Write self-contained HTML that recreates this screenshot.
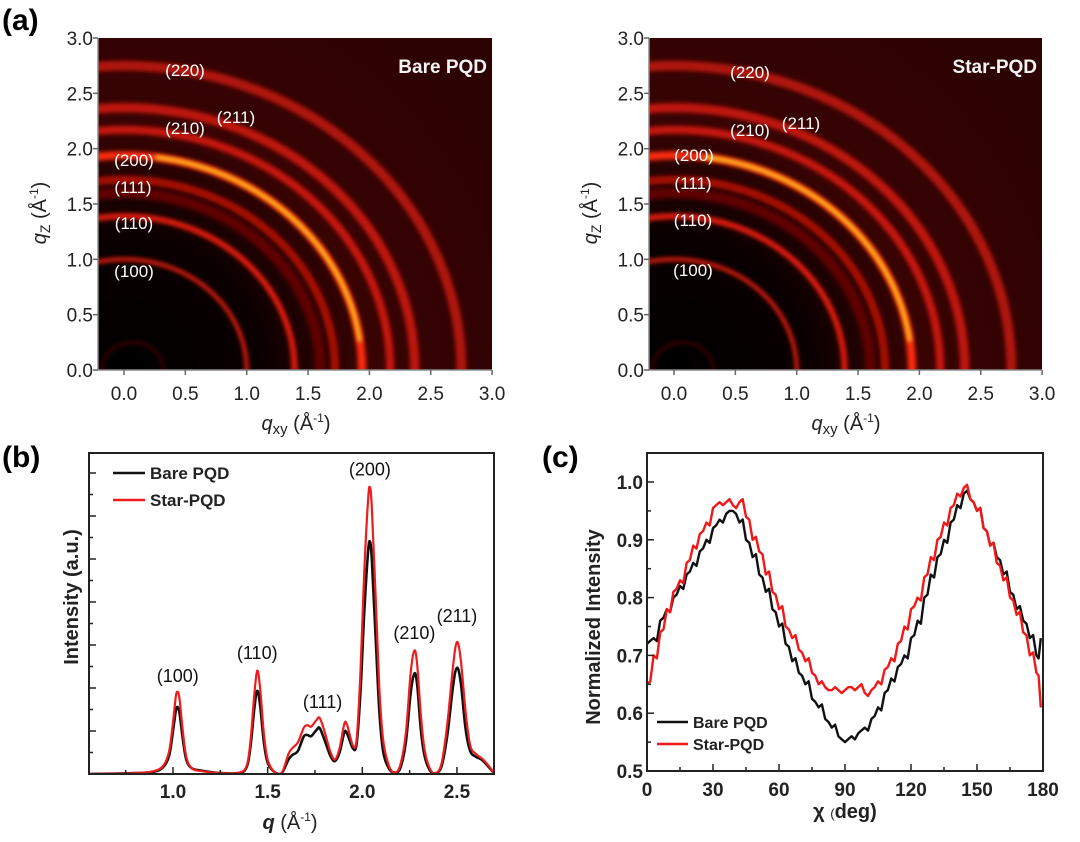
<!DOCTYPE html>
<html><head><meta charset="utf-8">
<style>
html,body{margin:0;padding:0;background:#fff;}
svg{display:block;font-family:"Liberation Sans",Arial,sans-serif;}
</style></head>
<body>
<svg id="fig" width="1080" height="842" viewBox="0 0 1080 842" xmlns="http://www.w3.org/2000/svg">
<defs>
  <filter id="blur2" x="-10%" y="-10%" width="120%" height="120%"><feGaussianBlur stdDeviation="2"/></filter>
  <filter id="blur4" x="-10%" y="-10%" width="120%" height="120%"><feGaussianBlur stdDeviation="3"/></filter>
  <clipPath id="clipA1"><rect x="98" y="38" width="394" height="332"/></clipPath>
  <clipPath id="clipA2"><rect x="649" y="38" width="393" height="332"/></clipPath>
  <clipPath id="clipB"><rect x="89" y="453" width="405" height="321"/></clipPath>
  <clipPath id="clipC"><rect x="647" y="453" width="396" height="318"/></clipPath>
</defs>
<g id="panelA1"></g>
<g id="panelA2"></g>
<g id="panelB"></g>
<g id="panelC"></g>
<text x="2" y="30" font-size="30" font-weight="bold">(a)</text>
<text x="2" y="467" font-size="30" font-weight="bold">(b)</text>
<text x="542" y="467" font-size="30" font-weight="bold">(c)</text>
</svg>
<script>
// ---------- Panel (a) data ----------
const ringQ      = [1.0, 1.39, 1.60, 1.72, 1.94, 2.17, 2.37, 2.75];
const ringWidth  = [0.035, 0.05, 0.09, 0.07, 0.07, 0.07, 0.08, 0.085];
const ringColor  = ["#e01a10","#e81c10","#600202","#a80c04","#ff2c10","#c81608","#c01408","#b01208"];
const aTicks     = [0, 0.5, 1.0, 1.5, 2.0, 2.5, 3.0];
const aTickLabels= ["0.0","0.5","1.0","1.5","2.0","2.5","3.0"];
const ringLabels = ["(100)","(110)","(111)","(200)","(210)","(211)","(220)"];
// ---------- Panel (b) data ----------
const bQ = [0.56,0.80,0.90,0.95,0.98,1.00,1.015,1.025,1.035,1.05,1.07,1.10,1.15,1.25,1.35,1.39,1.41,1.43,1.445,1.46,1.48,1.50,1.53,1.56,1.58,1.61,1.63,1.66,1.69,1.71,1.73,1.76,1.775,1.80,1.83,1.855,1.88,1.905,1.92,1.95,1.97,1.99,2.01,2.03,2.04,2.05,2.07,2.09,2.11,2.14,2.17,2.20,2.23,2.255,2.275,2.29,2.31,2.33,2.36,2.39,2.42,2.45,2.48,2.50,2.52,2.545,2.57,2.60,2.63,2.66,2.70];
const bStar = [0,0.3,1.0,3,8,18,27,28.6,26,16,6,2,1,0.3,0.5,3,12,28,36,30,14,5,1,0,1,7,9,11,16,17,16.5,19,19.5,15,8,5,9,17.5,17,10,12,35,70,95,100,93,62,30,12,3,0.5,3,14,35,43,38,20,8,1.5,0.3,4,18,38,46,40,22,10,7,5.5,3.5,0];
const bBare = [0,0.3,0.8,2.5,6.5,15,22,23.3,21,13,5,2,1.2,0.3,0.4,2.5,10,23,29,24,11,4,1,0,0.8,5,6.6,8,13,13.6,13.2,15.5,16,12,6.5,4.5,7.5,14.5,14,9,10.5,28,56,77,81,75,48,22,8,2,0.5,2,11,28,35,31,15,6,1,0.3,3,14,31,37,32,16,8,6,5,3,0];
const bXTicks = [1.0,1.5,2.0,2.5];
const bXTickLabels = ["1.0","1.5","2.0","2.5"];
const bPeakLabels = ["(100)","(110)","(111)","(200)","(210)","(211)"];
const bPeakQ = [1.025,1.445,1.79,2.04,2.275,2.50];
const bPeakI = [32,40,23,104,47,53];
// ---------- Panel (c) data ----------
const cChi = [0,3,6,9,12,15,18,21,24,27,30,33,36,39,42,45,48,51,54,57,60,63,66,69,72,75,78,81,84,87,90,93,96,99,102,105,108,111,114,117,120,123,126,129,132,135,138,141,144,147,150,153,156,159,162,165,168,171,174,177,179];
const cBare = [0.72,0.73,0.76,0.78,0.80,0.82,0.84,0.86,0.88,0.90,0.92,0.935,0.945,0.95,0.93,0.90,0.87,0.84,0.81,0.78,0.75,0.72,0.69,0.67,0.65,0.625,0.61,0.59,0.575,0.56,0.55,0.56,0.565,0.575,0.59,0.61,0.635,0.66,0.68,0.70,0.73,0.76,0.80,0.84,0.87,0.90,0.93,0.96,0.98,0.97,0.95,0.92,0.89,0.87,0.84,0.81,0.78,0.76,0.73,0.70,0.73];
const cStar = [0.65,0.70,0.74,0.78,0.81,0.83,0.86,0.89,0.91,0.93,0.955,0.965,0.965,0.96,0.965,0.94,0.90,0.88,0.84,0.81,0.78,0.75,0.73,0.71,0.69,0.67,0.65,0.645,0.64,0.64,0.64,0.645,0.645,0.635,0.64,0.655,0.675,0.695,0.72,0.75,0.78,0.80,0.835,0.87,0.90,0.93,0.955,0.98,0.99,0.97,0.95,0.92,0.89,0.86,0.83,0.80,0.77,0.74,0.70,0.67,0.61];
const cXTicks = [0,30,60,90,120,150,180];
const cYTicks = [0.5,0.6,0.7,0.8,0.9,1.0];
const cYTickLabels = ["0.5","0.6","0.7","0.8","0.9","1.0"];

const NS="http://www.w3.org/2000/svg";
function el(tag, attrs, parent){const e=document.createElementNS(NS,tag);for(const k in attrs)e.setAttribute(k,attrs[k]);parent.appendChild(e);return e;}

// ---------- Panel (a) ----------
function drawA(g, L, R, zeroX, title, labelPos, clipId){
  const T=38,B=370, sx=122.7, sy=(B-T)/3;
  const X=q=>zeroX+q*sx, Y=q=>B-q*sy;
  const grad=el('radialGradient',{id:'bg'+clipId,cx:X(0),cy:Y(0),r:sx*3.6,gradientUnits:'userSpaceOnUse'},document.querySelector('defs'));
  el('stop',{offset:'0','stop-color':'#000'},grad);el('stop',{offset:'0.3','stop-color':'#0a0000'},grad);
  el('stop',{offset:'0.55','stop-color':'#380303'},grad);el('stop',{offset:'1','stop-color':'#2c0202'},grad);
  const bg=el('rect',{x:L,y:T,width:R-L,height:B-T,fill:'url(#bg'+clipId+')'},g);
  
  
  const rg=el('g',{'clip-path':'url(#'+clipId+')'},g);
  ringQ.forEach((q,i)=>{
    const w=ringWidth[i]*(sx+sy)/2;
    const r=el('ellipse',{cx:X(0),cy:Y(0),rx:q*sx,ry:q*sy,fill:'none',stroke:ringColor[i],'stroke-width':w,filter:'url(#blur2)'},rg);
    
    
  });
  // bright yellow segment of (200) ring
  const q200=ringQ[4];
  let d='';
  for(let a=8;a<=82;a+=2){const t=a*Math.PI/180;const px=X(q200*Math.cos(t)),py=Y(q200*Math.sin(t));d+=(a===8?'M':'L')+px.toFixed(1)+' '+py.toFixed(1);}
  const yl=el('path',{d:d,fill:'none',stroke:'#ffe020','stroke-width':3.5,filter:'url(#blur2)','stroke-linecap':'round'},rg);
  
  
  el('ellipse',{cx:X(0.07),cy:Y(0),rx:0.25*sx,ry:0.25*sy,fill:'none',stroke:'#5a0000','stroke-width':2,filter:'url(#blur2)'},rg);
  // axes
  el('line',{x1:L,y1:T,x2:L,y2:B,stroke:'#888','stroke-width':1.5},g);
  el('line',{x1:L,y1:B,x2:R,y2:B,stroke:'#888','stroke-width':1.5},g);
  aTicks.forEach((v,i)=>{
    el('line',{x1:L-5,y1:Y(v),x2:L,y2:Y(v),stroke:'#666','stroke-width':1.5},g);
    const ty=el('text',{x:L-5,y:Y(v)+7,'font-size':19,'text-anchor':'end',fill:'#222'},g);ty.textContent=aTickLabels[i];
    
    
    el('line',{x1:X(v),y1:B,x2:X(v),y2:B+5,stroke:'#666','stroke-width':1.5},g);
    const tx=el('text',{x:X(v),y:B+30,'font-size':19,'text-anchor':'middle',fill:'#222'},g);tx.textContent=aTickLabels[i];
    
    
  });
  ringLabels.forEach((s,i)=>{
    const t=el('text',{x:labelPos[i][0],y:labelPos[i][1],'font-size':17,'text-anchor':'middle',fill:'#fff'},g);t.textContent=s;
    
    
  });
  const tt=el('text',{x:R-5,y:73,'font-size':19,'font-weight':'bold','text-anchor':'end',fill:'#f4f4f4'},g);tt.textContent=title;
  
  
  const yt=el('text',{transform:'translate('+(L-52)+',213) rotate(-90)','font-size':20,'text-anchor':'middle',fill:'#222'},g);
  yt.innerHTML='<tspan font-style="italic">q</tspan><tspan font-size="14" dy="4">Z</tspan><tspan dy="-4"> (Å</tspan><tspan font-size="12" dy="-8">-1</tspan><tspan dy="8">)</tspan>';
  
  
  const xt=el('text',{x:zeroX+172,y:430,'font-size':20,'text-anchor':'middle',fill:'#222'},g);
  xt.innerHTML='<tspan font-style="italic">q</tspan><tspan font-size="15" dy="4">xy</tspan><tspan dy="-4"> (Å</tspan><tspan font-size="12" dy="-8">-1</tspan><tspan dy="8">)</tspan>';
  
  
}
drawA(document.getElementById('panelA1'),98,492,124,'Bare PQD',
  [[134,277],[134,229],[133,193],[134,166],[185,134],[236,123],[185,76]],'clipA1');
drawA(document.getElementById('panelA2'),649,1042,674,'Star-PQD',
  [[693,276],[693,226],[693,189],[694,161],[750,136],[801,129],[750,78]],'clipA2');

// ---------- Panel (b) ----------
(function(){
  const g=document.getElementById('panelB');
  const L=89,R=494,T=453,B=774;
  const X=q=>173+(q-1.0)*189.3, Y=v=>B-v*2.87;
  function smooth(xs,ys){
    const p=xs.map((x,i)=>[X(x),Y(ys[i])]);let d='M'+p[0][0].toFixed(1)+' '+p[0][1].toFixed(1);
    for(let i=0;i<p.length-1;i++){
      const p0=p[i-1]||p[i],p1=p[i],p2=p[i+1],p3=p[i+2]||p2;
      const c1=[p1[0]+(p2[0]-p0[0])/6,p1[1]+(p2[1]-p0[1])/6],c2=[p2[0]-(p3[0]-p1[0])/6,p2[1]-(p3[1]-p1[1])/6];
      d+='C'+c1.map(v=>v.toFixed(1)).join(' ')+' '+c2.map(v=>v.toFixed(1)).join(' ')+' '+p2[0].toFixed(1)+' '+p2[1].toFixed(1);
    }return d;}
  const cg=el('g',{'clip-path':'url(#clipB)'},g);
  const lb=el('path',{d:smooth(bQ,bBare),fill:'none',stroke:'#111','stroke-width':2.6},cg);
  
  
  const lr=el('path',{d:smooth(bQ,bStar),fill:'none',stroke:'#ee1c1c','stroke-width':2.2},cg);
  
  
  el('rect',{x:L,y:T,width:R-L,height:B-T,fill:'none',stroke:'#222','stroke-width':2},g);
  for(let i=1;i<=14;i++){const y=B-i*21.5;el('line',{x1:L,y1:y,x2:L+(i%2===0?7:4),y2:y,stroke:'#222','stroke-width':1.5},g);}
  for(let q=0.75;q<=2.7;q+=0.25){const x=X(q);el('line',{x1:x,y1:B,x2:x,y2:B-(Math.abs(q*2-Math.round(q*2))<0.01?7:4),stroke:'#222','stroke-width':1.5},g);}
  bXTicks.forEach((v,i)=>{const t=el('text',{x:X(v),y:798,'font-size':19,'font-weight':'bold','text-anchor':'middle',fill:'#222'},g);t.textContent=bXTickLabels[i];
    
    });
  bPeakLabels.forEach((s,i)=>{const t=el('text',{x:X(bPeakQ[i]),y:Y(bPeakI[i]),'font-size':18,'text-anchor':'middle',fill:'#111'},g);t.textContent=s;
    
    });
  const xt=el('text',{x:290,y:829,'font-size':20,'text-anchor':'middle',fill:'#222'},g);
  xt.innerHTML='<tspan font-weight="bold" font-style="italic">q</tspan> (Å<tspan font-size="12" dy="-8">-1</tspan><tspan dy="8">)</tspan>';
  
  
  const yt=el('text',{transform:'translate(78,597) rotate(-90)','font-size':20,'font-weight':'bold','text-anchor':'middle',fill:'#222'},g);yt.textContent='Intensity (a.u.)';
  
  
  [['Bare PQD','#111',473],['Star-PQD','#ee1c1c',500]].forEach(a=>{
    const lg=el('g',{},g);
    
    
    el('line',{x1:113,y1:a[2],x2:145,y2:a[2],stroke:a[1],'stroke-width':2.5},lg);
    const t=el('text',{x:150,y:a[2]+6,'font-size':17,'font-weight':'bold',fill:'#222'},lg);t.textContent=a[0];
  });
})();

// ---------- Panel (c) ----------
(function(){
  const g=document.getElementById('panelC');
  const L=647,R=1043,T=453,B=771;
  const X=c=>L+c*2.2, Y=v=>B-(v-0.5)*578;
  function step(xs,ys){let d='';xs.forEach((x,i)=>{d+=(i?'L':'M')+X(x).toFixed(1)+' '+Y(ys[i]).toFixed(1);
    if(i<xs.length-1){const xm=(X(x)+X(xs[i+1]))/2;d+='L'+xm.toFixed(1)+' '+(Y(ys[i])+(i%2?3:-3)).toFixed(1);}});return d;}
  const cg=el('g',{'clip-path':'url(#clipC)'},g);
  const lb=el('path',{d:step(cChi,cBare),fill:'none',stroke:'#111','stroke-width':2.4,'stroke-linejoin':'round'},cg);
  
  
  const lr=el('path',{d:step(cChi,cStar),fill:'none',stroke:'#f01818','stroke-width':2.4,'stroke-linejoin':'round'},cg);
  
  
  el('rect',{x:L,y:T,width:R-L,height:B-T,fill:'none',stroke:'#222','stroke-width':2},g);
  for(let c=15;c<180;c+=15){el('line',{x1:X(c),y1:B,x2:X(c),y2:B-(c%30===0?7:4),stroke:'#222','stroke-width':1.5},g);}
  for(let v=0.55;v<1.04;v+=0.05){el('line',{x1:L,y1:Y(v),x2:L+(Math.abs(v*10-Math.round(v*10))<0.01?7:4),y2:Y(v),stroke:'#222','stroke-width':1.5},g);}
  cXTicks.forEach(v=>{const t=el('text',{x:X(v),y:796,'font-size':19,'font-weight':'bold','text-anchor':'middle',fill:'#222'},g);t.textContent=String(v);
    
    });
  cYTicks.forEach((v,i)=>{const t=el('text',{x:L-4,y:Y(v)+7,'font-size':19,'font-weight':'bold','text-anchor':'end',fill:'#222'},g);t.textContent=cYTickLabels[i];
    
    });
  const xt=el('text',{x:845,y:818,'font-size':20,'font-weight':'bold','text-anchor':'middle',fill:'#222'},g);
  xt.innerHTML='χ <tspan font-size="13" font-weight="normal">(</tspan>deg)';
  
  
  const yt=el('text',{transform:'translate(600,627) rotate(-90)','font-size':20,'font-weight':'bold','text-anchor':'middle',fill:'#222'},g);yt.textContent='Normalized Intensity';
  
  
  [['Bare PQD','#111',722],['Star-PQD','#f01818',744]].forEach(a=>{
    const lg=el('g',{},g);
    
    
    el('line',{x1:657,y1:a[2],x2:688,y2:a[2],stroke:a[1],'stroke-width':2.5},lg);
    const t=el('text',{x:693,y:a[2]+6,'font-size':16,'font-weight':'bold',fill:'#222'},lg);t.textContent=a[0];
  });
})();
</script>
</body></html>
